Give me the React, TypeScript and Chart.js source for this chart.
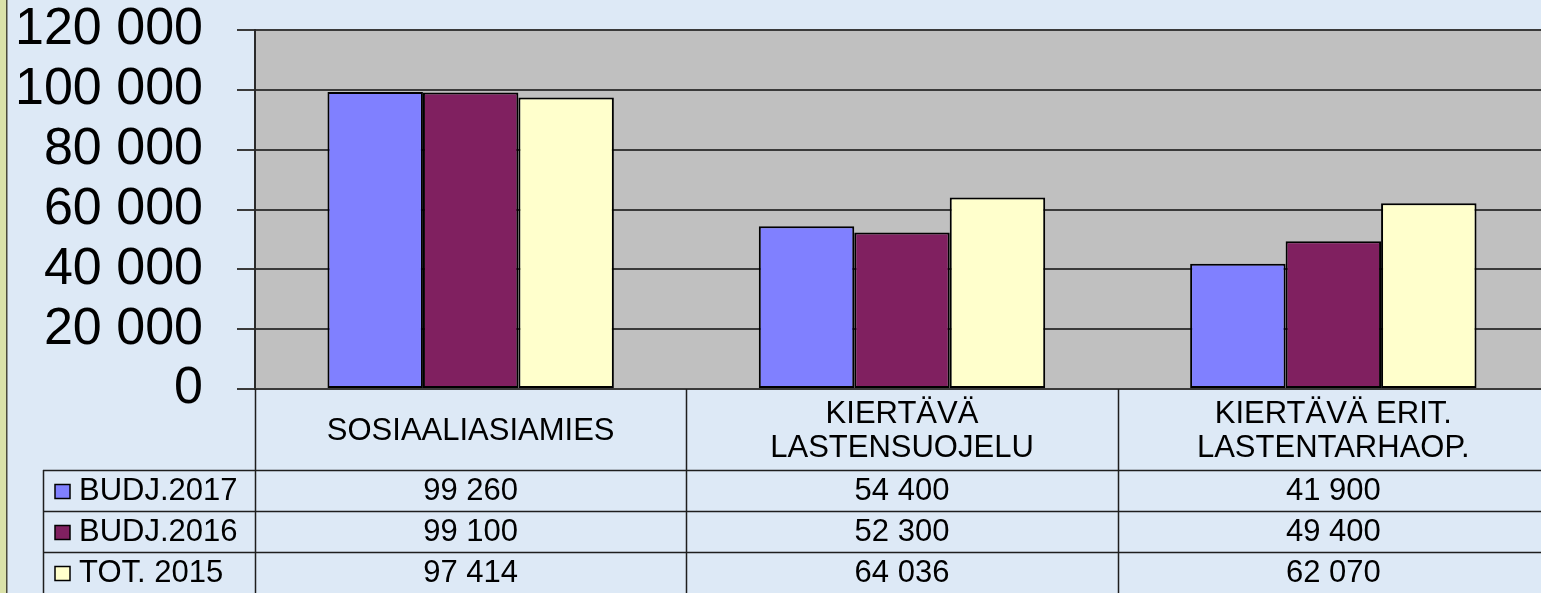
import React, { useEffect, useRef } from 'react';
import { Chart, registerables } from 'chart.js';

Chart.register(...registerables);

const categories: string[][] = [
  ['SOSIAALIASIAMIES'],
  ['KIERTÄVÄ', 'LASTENSUOJELU'],
  ['KIERTÄVÄ ERIT.', 'LASTENTARHAOP.'],
];
const seriesNames = ['BUDJ.2017', 'BUDJ.2016', 'TOT. 2015'];
const budj2017 = [99260, 54400, 41900];
const budj2016 = [99100, 52300, 49400];
const tot2015 = [97414, 64036, 62070];
const seriesColors = ['#8080FF', '#802060', '#FFFFCC'];
const yTickValues = [0, 20000, 40000, 60000, 80000, 100000, 120000];

const FONT = '"Liberation Sans", Arial, Helvetica, sans-serif';
const TABLE_FONT_SIZE = 31;

function fmt(v: number): string {
  return String(Math.round(v)).replace(/\B(?=(\d{3})+(?!\d))/g, ' ');
}

const backgroundPlugin = {
  id: 'bgPlugin',
  beforeDraw(chart: any) {
    const { ctx, chartArea, width, height } = chart;
    ctx.save();
    ctx.fillStyle = '#DDE9F6';
    ctx.fillRect(0, 0, width, height);
    ctx.fillStyle = '#DAE2A9';
    ctx.fillRect(0, 0, 6, height);
    ctx.strokeStyle = '#4a4a3a';
    ctx.lineWidth = 1.5;
    ctx.beginPath();
    ctx.moveTo(6.75, 0);
    ctx.lineTo(6.75, height);
    ctx.stroke();
    ctx.fillStyle = '#C0C0C0';
    ctx.fillRect(chartArea.left, chartArea.top, chartArea.right - chartArea.left, chartArea.bottom - chartArea.top);
    ctx.restore();
  },
};

const tablePlugin = {
  id: 'tablePlugin',
  afterDraw(chart: any) {
    const { ctx, chartArea, width, height } = chart;
    const x = chart.scales.x;
    const n = categories.length;
    const step = x.getPixelForValue(1) - x.getPixelForValue(0);
    const top = chartArea.bottom;
    const headerBottom = 470;
    const rowH = 41;
    const legendLeft = 43;

    ctx.save();
    ctx.strokeStyle = '#1e1e1e';
    ctx.lineWidth = 1.5;
    ctx.beginPath();
    for (let i = 0; i <= n; i++) {
      const px = Math.round(x.getPixelForValue(0) - step / 2 + i * step) + 0.5;
      ctx.moveTo(px, top);
      ctx.lineTo(px, height);
    }
    ctx.moveTo(legendLeft + 0.5, headerBottom);
    ctx.lineTo(legendLeft + 0.5, height);
    for (let r = 0; r < seriesNames.length; r++) {
      const py = headerBottom + r * rowH + 0.5;
      ctx.moveTo(legendLeft, py);
      ctx.lineTo(width, py);
    }
    ctx.stroke();

    ctx.font = `${TABLE_FONT_SIZE}px ${FONT}`;
    ctx.textBaseline = 'middle';
    chart.data.datasets.forEach((ds: any, r: number) => {
      const cy = headerBottom + r * rowH + rowH / 2 + 1;
      ctx.fillStyle = ds.backgroundColor;
      ctx.fillRect(55, cy - 7, 15, 14);
      ctx.strokeStyle = '#000';
      ctx.lineWidth = 1.5;
      ctx.strokeRect(55, cy - 7, 15, 14);
      ctx.fillStyle = '#000';
      ctx.textAlign = 'left';
      ctx.fillText(ds.label, 79, cy);
      ctx.textAlign = 'center';
      ds.data.forEach((v: number, i: number) => {
        ctx.fillText(fmt(v), x.getPixelForValue(i), cy);
      });
    });
    ctx.restore();
  },
};

export default function App() {
  const ref = useRef<HTMLCanvasElement>(null);

  useEffect(() => {
    const series = [budj2017, budj2016, tot2015];
    const chart = new Chart(ref.current as HTMLCanvasElement, {
      type: 'bar',
      data: {
        labels: categories,
        datasets: seriesNames.map((name, i) => ({
          label: name,
          data: series[i],
          backgroundColor: seriesColors[i],
          borderColor: '#000000',
          borderWidth: 2,
          borderSkipped: false,
          barPercentage: 1,
          categoryPercentage: 0.664,
        })),
      },
      options: {
        responsive: false,
        animation: false,
        layout: { padding: { top: 30, left: 0, right: 0, bottom: 0 } },
        plugins: {
          legend: { display: false },
          tooltip: { enabled: false },
        },
        scales: {
          x: {
            grid: { display: false, drawTicks: false },
            border: { display: false },
            ticks: {
              color: '#000',
              font: { family: FONT, size: TABLE_FONT_SIZE, lineHeight: 34 / TABLE_FONT_SIZE },
              crossAlign: 'center',
              autoSkip: false,
              maxRotation: 0,
              minRotation: 0,
              padding: 25,
            },
            afterFit: (s: any) => {
              s.height = 204;
            },
          },
          y: {
            min: 0,
            max: 120000,
            afterBuildTicks: (s: any) => {
              s.ticks = yTickValues.map((v) => ({ value: v }));
            },
            ticks: {
              color: '#000',
              font: { family: FONT, size: 52, lineHeight: 1 },
              padding: 34,
              autoSkip: false,
              callback: (v: any) => fmt(Number(v)),
            },
            grid: { color: '#3a3a3a', lineWidth: 2, tickLength: 18, tickColor: '#3a3a3a' },
            border: { display: true, color: '#2a2a2a', width: 2 },
            afterFit: (s: any) => {
              s.width = 255;
              s.paddingTop = 0;
              s.paddingBottom = 0;
            },
          },
        },
      },
      plugins: [backgroundPlugin, tablePlugin],
    } as any);
    return () => chart.destroy();
  }, []);

  return (
    <div style={{ position: 'fixed', left: 0, top: 0, width: 1541, height: 593, overflow: 'hidden' }}>
      <canvas ref={ref} width={1549} height={593} style={{ display: 'block', width: 1549, height: 593 }} />
    </div>
  );
}
